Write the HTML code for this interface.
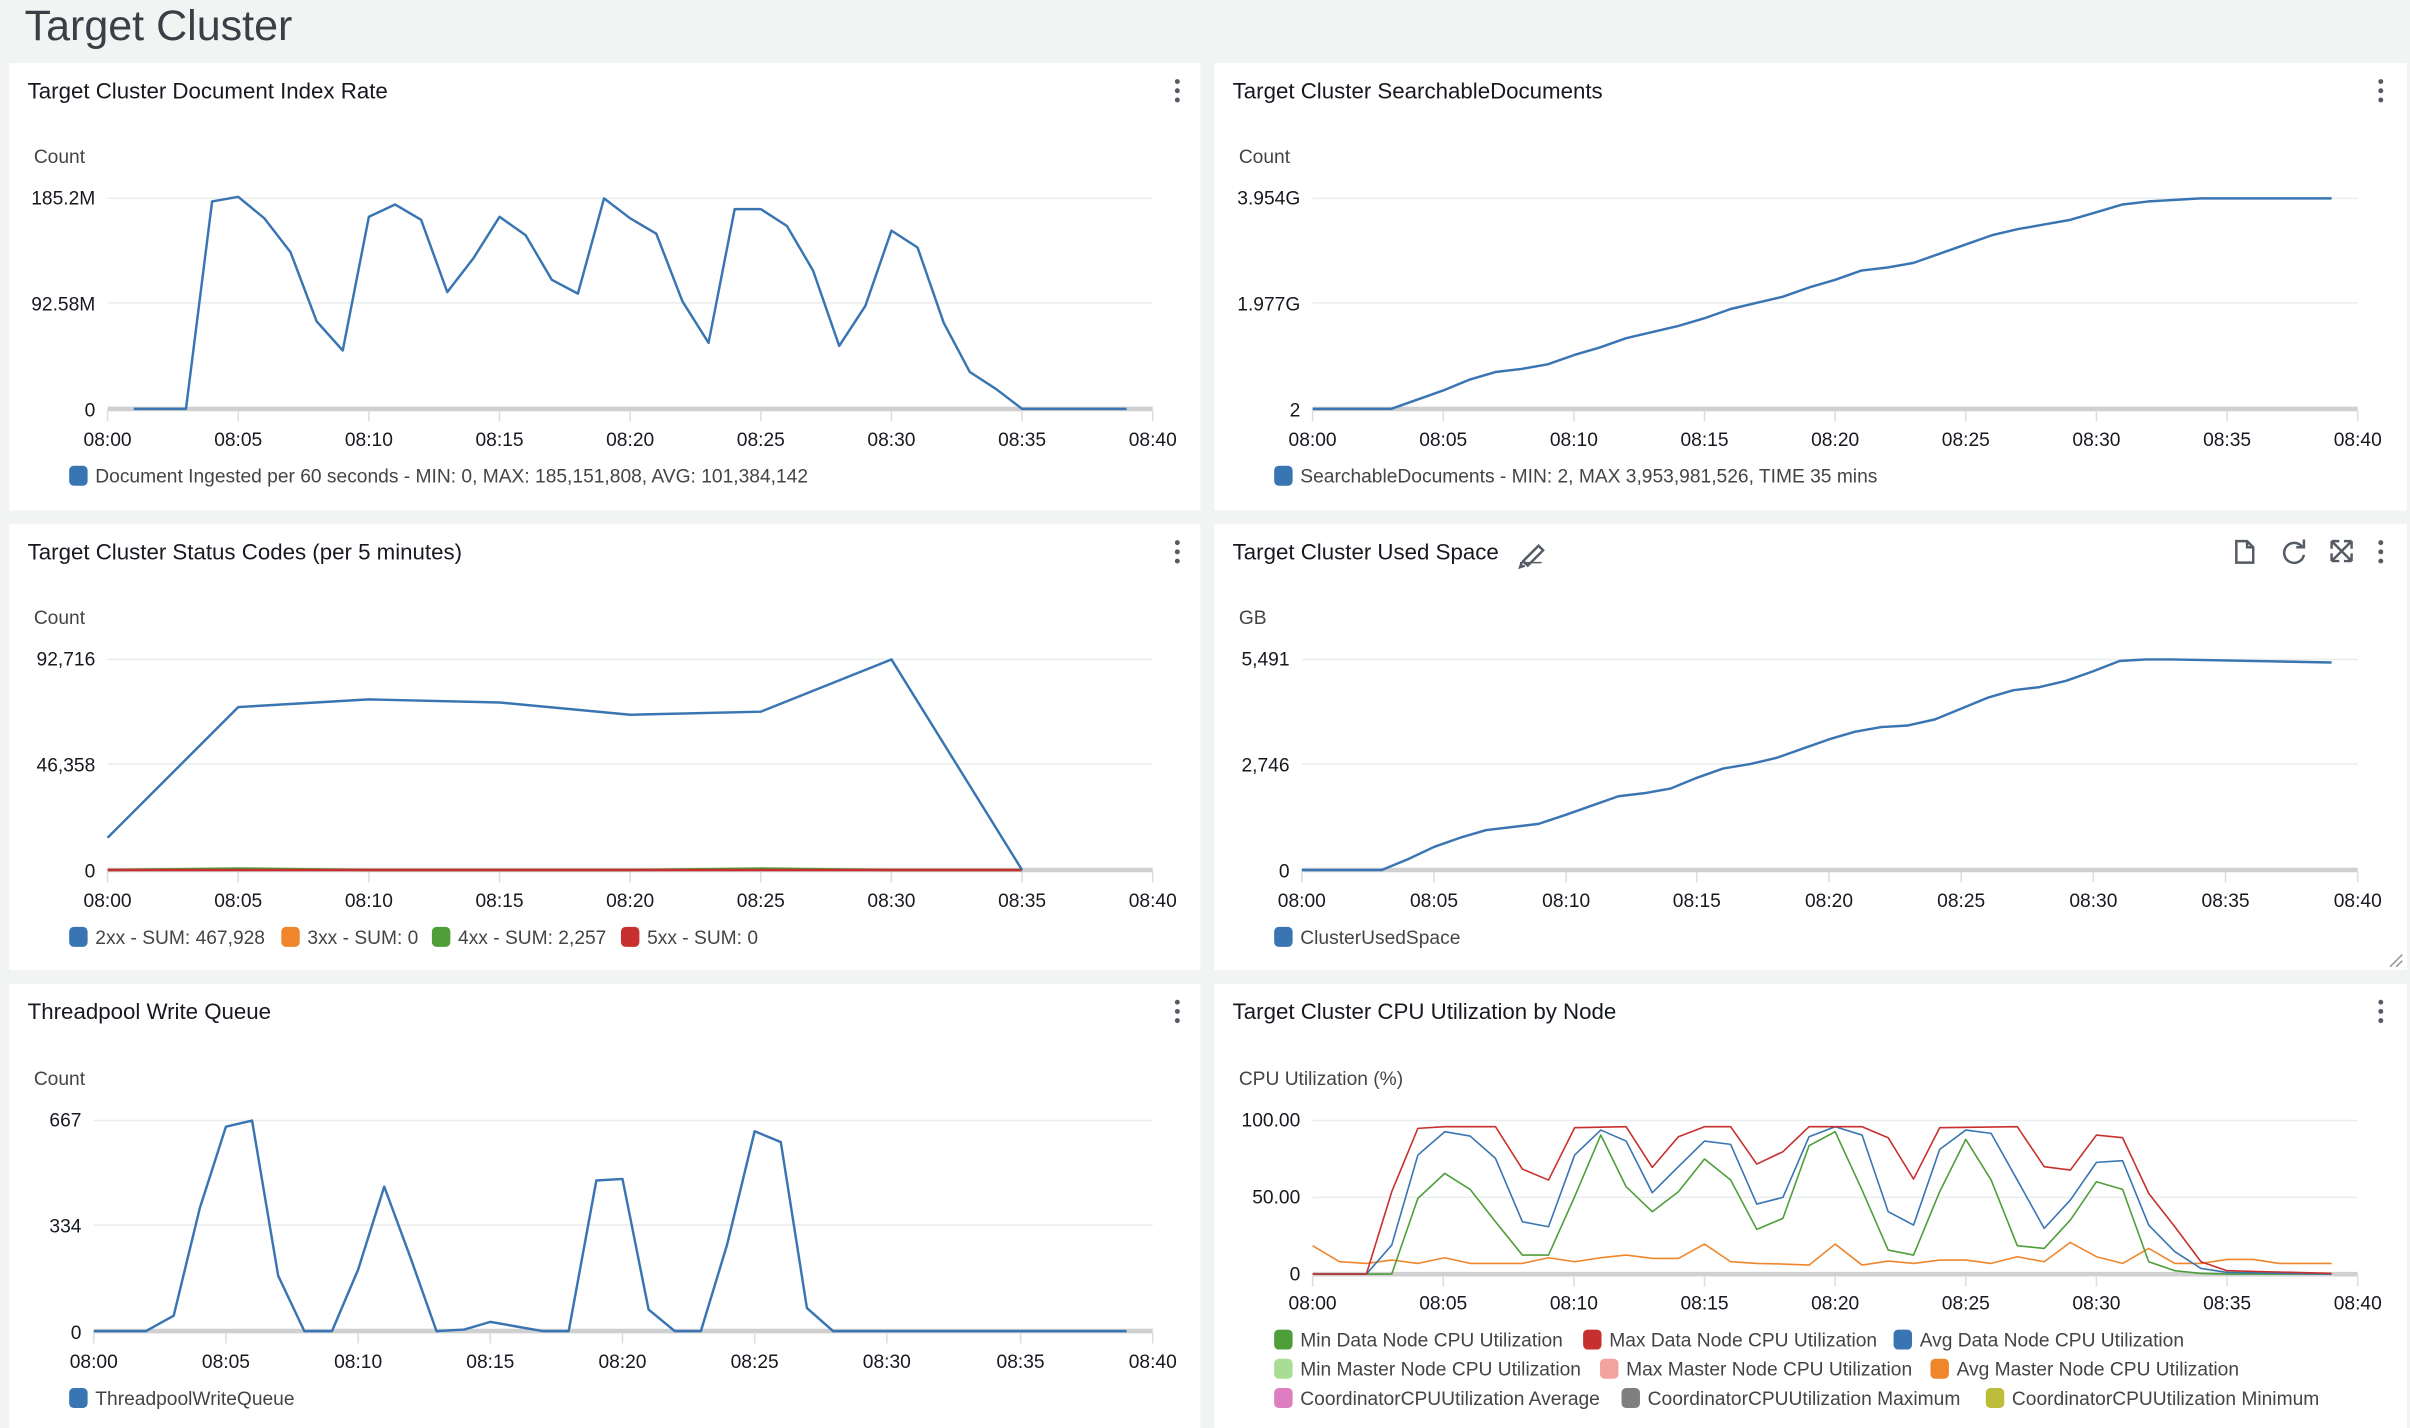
<!DOCTYPE html>
<html><head><meta charset="utf-8"><style>
html,body{margin:0;padding:0;background:#f2f3f3;}
svg{display:block;font-family:"Liberation Sans",sans-serif;}
.pt{font-size:14.5px;fill:#16191f;}
.tk{font-size:12.5px;fill:#16191f;}
.ax{font-size:12.5px;fill:#444;}
.lg{font-size:12.5px;fill:#444;}
.g{stroke:#eaeded;stroke-width:1;}
.b{stroke:#d0d0d0;stroke-width:3;}
.l{fill:none;stroke-width:1.6;stroke-linejoin:round;}
.s{fill:none;stroke-width:1.6;stroke-linejoin:round;vector-effect:non-scaling-stroke;}
</style></head><body>
<svg width="2410" height="1428" viewBox="0 0 1568 929" xmlns="http://www.w3.org/2000/svg">
<rect width="1568" height="929" fill="#f2f3f3"/>
<text x="16" y="26" font-size="28" fill="#3a3f45">Target Cluster</text>
<!-- panels -->
<rect x="6" y="41" width="775" height="291" fill="#fff"/>
<rect x="790" y="41" width="776" height="291" fill="#fff"/>
<rect x="6" y="341" width="775" height="290" fill="#fff"/>
<rect x="790" y="341" width="776" height="290" fill="#fff"/>
<rect x="6" y="640" width="775" height="289" fill="#fff"/>
<rect x="790" y="640" width="776" height="289" fill="#fff"/>
<g fill="#545b64">
<circle cx="766" cy="53" r="1.6"/><circle cx="766" cy="59" r="1.6"/><circle cx="766" cy="65" r="1.6"/>
<circle cx="1549" cy="53" r="1.6"/><circle cx="1549" cy="59" r="1.6"/><circle cx="1549" cy="65" r="1.6"/>
<circle cx="766" cy="353" r="1.6"/><circle cx="766" cy="359" r="1.6"/><circle cx="766" cy="365" r="1.6"/>
<circle cx="1549" cy="353" r="1.6"/><circle cx="1549" cy="359" r="1.6"/><circle cx="1549" cy="365" r="1.6"/>
<circle cx="766" cy="652" r="1.6"/><circle cx="766" cy="658" r="1.6"/><circle cx="766" cy="664" r="1.6"/>
<circle cx="1549" cy="652" r="1.6"/><circle cx="1549" cy="658" r="1.6"/><circle cx="1549" cy="664" r="1.6"/>
</g>
<text class="pt" x="18" y="64">Target Cluster Document Index Rate</text>
<text class="pt" x="802" y="64">Target Cluster SearchableDocuments</text>
<text class="pt" x="18" y="364">Target Cluster Status Codes (per 5 minutes)</text>
<text class="pt" x="802" y="364">Target Cluster Used Space</text>
<text class="pt" x="18" y="663">Threadpool Write Queue</text>
<text class="pt" x="802" y="663">Target Cluster CPU Utilization by Node</text>
<!-- used space icons -->
<g stroke="#545b64" stroke-width="1.6" fill="none">
<path d="M991 365 L1001 355 L1004 358 L994 368 Z M990 366 L989 369 L992 368"/>
<line x1="989" y1="366" x2="1003" y2="366" stroke-width="1"/>
<path d="M1455 352 H1462 L1466 356 V366 H1455 Z M1462 352 V356 H1466"/>
<path d="M1498 356 A6.5 6.5 0 1 0 1499 361 M1499 351 V356 H1494"/>
<path d="M1517 352 L1530 365 M1530 352 L1517 365 M1517 352 h5 M1517 352 v5 M1530 352 h-5 M1530 352 v5 M1517 365 h5 M1517 365 v-5 M1530 365 h-5 M1530 365 v-5"/>
<path d="M1555 629 L1563 621 M1559 629 L1563 625" stroke="#999" stroke-width="1"/>
</g>

<!-- CHART 1 -->
<text class="ax" x="22" y="106">Count</text>
<line class="g" x1="70" y1="129" x2="750" y2="129"/><line class="g" x1="70" y1="197" x2="750" y2="197"/>
<line class="b" x1="70" y1="266" x2="750" y2="266"/>
<g class="tk" text-anchor="end"><text x="62" y="133">185.2M</text><text x="62" y="202">92.58M</text><text x="62" y="271">0</text></g>
<g stroke="#ddd"><path d="M70 267v7M155 267v7M240 267v7M325 267v7M410 267v7M495 267v7M580 267v7M665 267v7M750 267v7"/></g>
<g class="tk" text-anchor="middle"><text x="70" y="290">08:00</text><text x="155" y="290">08:05</text><text x="240" y="290">08:10</text><text x="325" y="290">08:15</text><text x="410" y="290">08:20</text><text x="495" y="290">08:25</text><text x="580" y="290">08:30</text><text x="665" y="290">08:35</text><text x="750" y="290">08:40</text></g>
<polyline class="l" stroke="#3a75b3" points="87,266 121,266 138,131 155,128 172,142 189,164 206,209 223,228 240,141 257,133 274,143 291,190 308,168 325,141 342,153 359,182 376,191 393,129 410,142 427,152 444,196 461,223 478,136 495,136 512,147 529,176 546,225 563,199 580,150 597,161 614,210 631,242 648,253 665,266 733,266"/>
<rect x="45" y="303" width="12" height="13" rx="3" fill="#3a75b3"/>
<text class="lg" x="62" y="314">Document Ingested per 60 seconds - MIN: 0, MAX: 185,151,808, AVG: 101,384,142</text>

<!-- CHART 2 -->
<text class="ax" x="806" y="106">Count</text>
<line class="g" x1="854" y1="129" x2="1534" y2="129"/><line class="g" x1="854" y1="197" x2="1534" y2="197"/>
<line class="b" x1="854" y1="266" x2="1534" y2="266"/>
<g class="tk" text-anchor="end"><text x="846" y="133">3.954G</text><text x="846" y="202">1.977G</text><text x="846" y="271">2</text></g>
<g stroke="#ddd"><path d="M854 267v7M939 267v7M1024 267v7M1109 267v7M1194 267v7M1279 267v7M1364 267v7M1449 267v7M1534 267v7"/></g>
<g class="tk" text-anchor="middle"><text x="854" y="290">08:00</text><text x="939" y="290">08:05</text><text x="1024" y="290">08:10</text><text x="1109" y="290">08:15</text><text x="1194" y="290">08:20</text><text x="1279" y="290">08:25</text><text x="1364" y="290">08:30</text><text x="1449" y="290">08:35</text><text x="1534" y="290">08:40</text></g>
<polyline class="l" stroke="#3a75b3" points="854,266 905,266 922,260 939,254 956,247 973,242 990,240 1007,237 1024,231 1041,226 1058,220 1075,216 1092,212 1109,207 1126,201 1143,197 1160,193 1177,187 1194,182 1211,176 1228,174 1245,171 1262,165 1279,159 1296,153 1313,149 1330,146 1347,143 1364,138 1381,133 1398,131 1415,130 1432,129 1517,129"/>
<rect x="829" y="303" width="12" height="13" rx="3" fill="#3a75b3"/>
<text class="lg" x="846" y="314">SearchableDocuments - MIN: 2, MAX 3,953,981,526, TIME 35 mins</text>

<!-- CHART 3 -->
<text class="ax" x="22" y="406">Count</text>
<line class="g" x1="70" y1="429" x2="750" y2="429"/><line class="g" x1="70" y1="497" x2="750" y2="497"/>
<line class="b" x1="70" y1="566" x2="750" y2="566"/>
<g class="tk" text-anchor="end"><text x="62" y="433">92,716</text><text x="62" y="502">46,358</text><text x="62" y="571">0</text></g>
<g stroke="#ddd"><path d="M70 567v7M155 567v7M240 567v7M325 567v7M410 567v7M495 567v7M580 567v7M665 567v7M750 567v7"/></g>
<g class="tk" text-anchor="middle"><text x="70" y="590">08:00</text><text x="155" y="590">08:05</text><text x="240" y="590">08:10</text><text x="325" y="590">08:15</text><text x="410" y="590">08:20</text><text x="495" y="590">08:25</text><text x="580" y="590">08:30</text><text x="665" y="590">08:35</text><text x="750" y="590">08:40</text></g>
<polyline class="l" stroke="#4e9e3a" points="70,566 155,565 240,566 325,566 410,566 495,565 580,566 665,566"/>
<polyline class="l" stroke="#c7302e" points="70,566 665,566"/>
<polyline class="l" stroke="#3a75b3" points="70,545 155,460 240,455 325,457 410,465 495,463 580,429 665,566"/>
<rect x="45" y="603" width="12" height="13" rx="3" fill="#3a75b3"/><text class="lg" x="62" y="614">2xx - SUM: 467,928</text>
<rect x="183" y="603" width="12" height="13" rx="3" fill="#f0862b"/><text class="lg" x="200" y="614">3xx - SUM: 0</text>
<rect x="281" y="603" width="12" height="13" rx="3" fill="#4e9e3a"/><text class="lg" x="298" y="614">4xx - SUM: 2,257</text>
<rect x="404" y="603" width="12" height="13" rx="3" fill="#c7302e"/><text class="lg" x="421" y="614">5xx - SUM: 0</text>

<!-- CHART 4 -->
<text class="ax" x="806" y="406">GB</text>
<line class="g" x1="847" y1="429" x2="1534" y2="429"/><line class="g" x1="847" y1="497" x2="1534" y2="497"/>
<line class="b" x1="847" y1="566" x2="1534" y2="566"/>
<g class="tk" text-anchor="end"><text x="839" y="433">5,491</text><text x="839" y="502">2,746</text><text x="839" y="571">0</text></g>
<g stroke="#ddd"><path d="M847 567v7M933 567v7M1019 567v7M1104 567v7M1190 567v7M1276 567v7M1362 567v7M1448 567v7M1534 567v7"/></g>
<g class="tk" text-anchor="middle"><text x="847" y="590">08:00</text><text x="933" y="590">08:05</text><text x="1019" y="590">08:10</text><text x="1104" y="590">08:15</text><text x="1190" y="590">08:20</text><text x="1276" y="590">08:25</text><text x="1362" y="590">08:30</text><text x="1448" y="590">08:35</text><text x="1534" y="590">08:40</text></g>
<polyline class="l" stroke="#3a75b3" points="847,566 899,566 916,559 933,551 950,545 967,540 984,538 1001,536 1019,530 1036,524 1053,518 1070,516 1087,513 1104,506 1121,500 1139,497 1156,493 1173,487 1190,481 1207,476 1224,473 1241,472 1259,468 1276,461 1293,454 1310,449 1327,447 1344,443 1361,437 1379,430 1396,429 1413,429 1517,431"/>
<rect x="829" y="603" width="12" height="13" rx="3" fill="#3a75b3"/><text class="lg" x="846" y="614">ClusterUsedSpace</text>

<!-- CHART 5 -->
<text class="ax" x="22" y="706">Count</text>
<line class="g" x1="61" y1="729" x2="750" y2="729"/><line class="g" x1="61" y1="797" x2="750" y2="797"/>
<line class="b" x1="61" y1="866" x2="750" y2="866"/>
<g class="tk" text-anchor="end"><text x="53" y="733">667</text><text x="53" y="802">334</text><text x="53" y="871">0</text></g>
<g stroke="#ddd"><path d="M61 867v7M147 867v7M233 867v7M319 867v7M405 867v7M491 867v7M577 867v7M664 867v7M750 867v7"/></g>
<g class="tk" text-anchor="middle"><text x="61" y="890">08:00</text><text x="147" y="890">08:05</text><text x="233" y="890">08:10</text><text x="319" y="890">08:15</text><text x="405" y="890">08:20</text><text x="491" y="890">08:25</text><text x="577" y="890">08:30</text><text x="664" y="890">08:35</text><text x="750" y="890">08:40</text></g>
<polyline class="l" stroke="#3a75b3" points="61,866 95,866 113,856 130,786 147,733 164,729 181,830 198,866 216,866 233,826 250,772 267,818 284,866 302,865 319,860 336,863 353,866 370,866 388,768 405,767 422,852 439,866 456,866 473,810 491,736 508,743 525,851 542,866 733,866"/>
<rect x="45" y="903" width="12" height="13" rx="3" fill="#3a75b3"/><text class="lg" x="62" y="914">ThreadpoolWriteQueue</text>

<!-- CHART 6 -->
<text class="ax" x="806" y="706">CPU Utilization (%)</text>
<line class="g" x1="854" y1="729" x2="1534" y2="729"/><line class="g" x1="854" y1="779" x2="1534" y2="779"/>
<line class="b" x1="854" y1="829" x2="1534" y2="829"/>
<g class="tk" text-anchor="end"><text x="846" y="733">100.00</text><text x="846" y="783">50.00</text><text x="846" y="833">0</text></g>
<g stroke="#ddd"><path d="M854 830v7M939 830v7M1024 830v7M1109 830v7M1194 830v7M1279 830v7M1364 830v7M1449 830v7M1534 830v7"/></g>
<g class="tk" text-anchor="middle"><text x="854" y="852">08:00</text><text x="939" y="852">08:05</text><text x="1024" y="852">08:10</text><text x="1109" y="852">08:15</text><text x="1194" y="852">08:20</text><text x="1279" y="852">08:25</text><text x="1364" y="852">08:30</text><text x="1449" y="852">08:35</text><text x="1534" y="852">08:40</text></g>
<g transform="translate(784,650.6) scale(0.5,0.2169)">
<polyline class="s" stroke="#f0862b" points="140,737 175,785 210,790 243,780 277,790 312,773 345,790 378,790 413,790 447,773 481,785 515,773 548,765 582,775 616,775 650,732 684,785 718,790 752,792 786,795 820,732 855,795 889,783 922,790 956,780 990,780 1023,790 1057,770 1092,785 1126,727 1160,770 1194,790 1228,745 1262,790 1296,790 1330,778 1364,778 1398,790 1466,790"/>
<polyline class="s" stroke="#4e9e3a" points="140,822 243,822 277,595 312,520 345,568 378,665 413,765 447,765 481,590 515,405 548,560 582,635 616,575 650,477 684,540 718,688 752,655 786,437 820,395 855,570 889,750 922,765 956,575 990,418 1023,540 1057,737 1092,745 1126,660 1160,545 1194,568 1228,785 1262,812 1296,820 1330,822 1466,822"/>
<polyline class="s" stroke="#3a75b3" points="140,822 210,822 243,735 277,465 312,395 345,408 378,475 413,665 447,680 481,465 515,390 548,423 582,578 616,500 650,423 684,433 718,612 752,592 786,410 820,380 855,405 889,635 922,675 956,448 990,390 1023,400 1057,540 1092,685 1126,600 1160,487 1194,482 1228,675 1262,755 1296,805 1330,817 1466,822"/>
<polyline class="s" stroke="#c7302e" points="140,822 210,822 243,575 277,385 312,380 378,380 413,507 447,540 481,383 548,380 582,502 616,410 650,380 684,380 718,492 752,455 786,380 855,380 889,413 922,537 956,383 1057,380 1092,500 1126,510 1160,405 1194,413 1228,580 1262,680 1296,785 1330,812 1466,820"/>
</g>
<g class="lg">
<rect x="829" y="865" width="12" height="13" rx="3" fill="#4e9e3a"/><text x="846" y="876">Min Data Node CPU Utilization</text>
<rect x="1030" y="865" width="12" height="13" rx="3" fill="#c7302e"/><text x="1047" y="876">Max Data Node CPU Utilization</text>
<rect x="1232" y="865" width="12" height="13" rx="3" fill="#3a75b3"/><text x="1249" y="876">Avg Data Node CPU Utilization</text>
<rect x="829" y="884" width="12" height="13" rx="3" fill="#a8dd95"/><text x="846" y="895">Min Master Node CPU Utilization</text>
<rect x="1041" y="884" width="12" height="13" rx="3" fill="#f2a39d"/><text x="1058" y="895">Max Master Node CPU Utilization</text>
<rect x="1256" y="884" width="12" height="13" rx="3" fill="#f0862b"/><text x="1273" y="895">Avg Master Node CPU Utilization</text>
<rect x="829" y="903" width="12" height="13" rx="3" fill="#dc7ec0"/><text x="846" y="914">CoordinatorCPUUtilization Average</text>
<rect x="1055" y="903" width="12" height="13" rx="3" fill="#7f7f7f"/><text x="1072" y="914">CoordinatorCPUUtilization Maximum</text>
<rect x="1292" y="903" width="12" height="13" rx="3" fill="#bcbd3a"/><text x="1309" y="914">CoordinatorCPUUtilization Minimum</text>
</g>
</svg>
</body></html>
